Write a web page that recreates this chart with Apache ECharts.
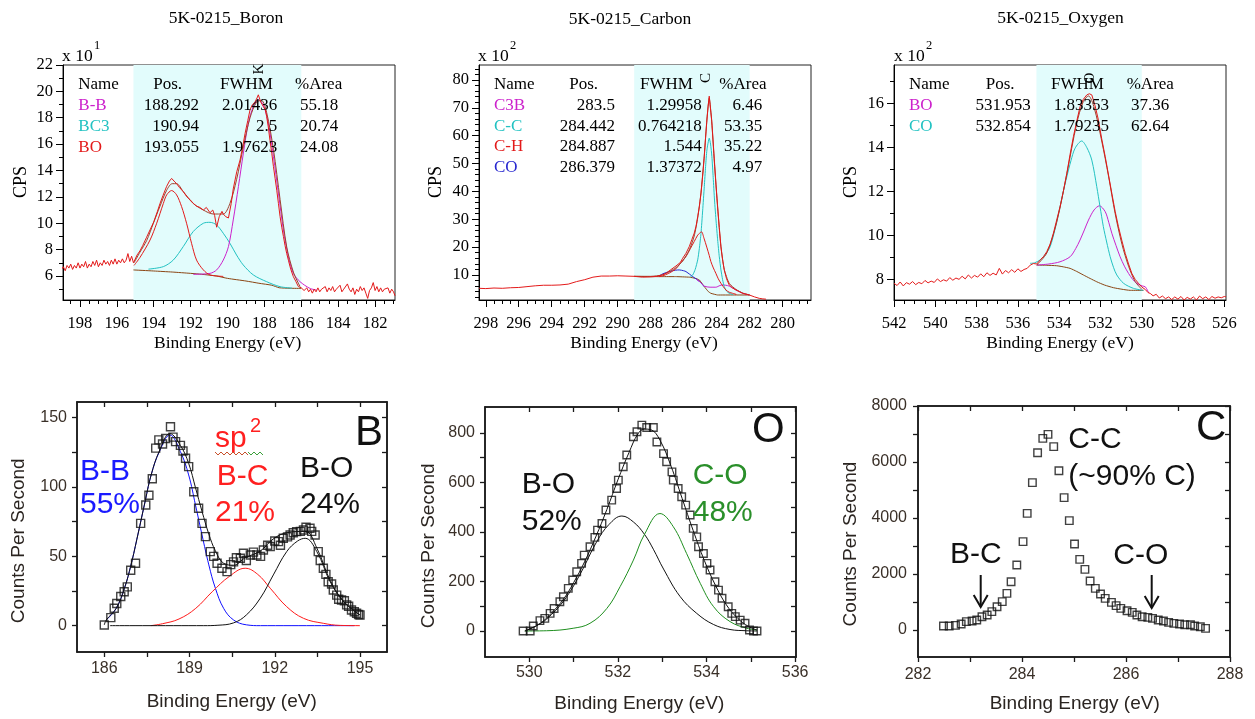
<!DOCTYPE html>
<html><head><meta charset="utf-8">
<script src="https://cdn.jsdelivr.net/npm/echarts@6/dist/echarts.min.js"></script>
<style>html,body{margin:0;padding:0;background:#fff}#c{width:1255px;height:719px}</style>
</head><body><div id="c"></div>
<script>
const SERIF = '"Liberation Serif", "Times New Roman", serif';
const SANS = '"Liberation Sans", Arial, sans-serif';

// ================= DATA =================
// ---- Top left: 5K-0215_Boron (CPS x 10^1) ----
const boronRaw = [[199.0,6.5],[198.9,6.7],[198.8,6.4],[198.7,6.8],[198.6,6.6],[198.5,6.9],[198.4,6.5],[198.3,6.8],[198.2,6.6],[198.1,7.0],[198.0,6.6],[197.9,6.9],[197.8,6.7],[197.7,7.1],[197.6,6.6],[197.5,6.9],[197.4,6.7],[197.3,7.1],[197.2,6.8],[197.1,7.2],[197.0,6.7],[196.9,7.0],[196.8,6.8],[196.7,7.2],[196.6,6.9],[196.5,7.1],[196.4,6.8],[196.3,7.2],[196.2,6.9],[196.1,7.3],[196.0,6.9],[195.9,7.2],[195.8,7.0],[195.7,7.3],[195.6,7.0],[195.5,7.2],[195.4,7.7],[195.3,7.1],[195.2,7.5],[195.1,7.0],[194.9,7.6],[194.75,7.9],[194.6,8.3],[194.4,8.9],[194.2,9.5],[194.0,10.1],[193.8,10.9],[193.66,11.5],[193.5,12.1],[193.3,12.8],[193.15,13.2],[193.03,13.4],[192.9,13.2],[192.76,13.0],[192.6,12.7],[192.4,12.4],[192.2,12.0],[192.04,11.8],[191.85,11.5],[191.68,11.3],[191.5,11.2],[191.31,11.0],[191.15,11.2],[190.95,10.8],[190.8,11.0],[190.7,10.6],[190.59,9.7],[190.45,10.5],[190.3,10.9],[190.23,10.7],[190.1,10.5],[189.95,10.4],[189.8,11.5],[189.69,12.6],[189.5,13.9],[189.32,14.8],[189.15,16.0],[189.05,16.8],[188.9,17.8],[188.78,18.6],[188.65,19.0],[188.51,19.2],[188.4,19.5],[188.33,19.74],[188.2,19.2],[188.06,18.85],[187.95,18.6],[187.88,18.1],[187.79,17.3],[187.7,16.3],[187.6,15.3],[187.51,14.3],[187.42,13.4],[187.33,12.5],[187.24,11.5],[187.15,10.5],[187.06,9.7],[186.97,9.0],[186.88,8.3],[186.79,7.7],[186.7,7.2],[186.61,6.7],[186.52,6.3],[186.43,5.95],[186.3,5.6],[186.16,5.2],[186.0,5.1],[185.85,4.9],[185.7,5.1],[185.6,4.8],[185.5,5.0],[185.4,4.7],[185.3,5.0],[185.2,4.8],[185.1,5.1],[185.0,4.8],[184.9,5.0],[184.8,4.9],[184.7,5.2],[184.6,4.8],[184.5,5.1],[184.4,4.9],[184.3,5.2],[184.2,4.8],[184.1,5.0],[184.0,4.9],[183.9,5.3],[183.8,4.8],[183.7,5.0],[183.6,4.9],[183.5,5.4],[183.4,5.0],[183.3,4.8],[183.2,5.1],[183.1,4.6],[183.0,5.0],[182.9,4.8],[182.8,5.2],[182.7,4.9],[182.6,5.1],[182.5,4.7],[182.4,4.3],[182.3,4.9],[182.2,5.1],[182.1,5.5],[182.0,4.9],[181.9,5.2],[181.8,4.8],[181.7,5.1],[181.6,4.8],[181.5,5.0],[181.4,4.9],[181.3,5.1],[181.2,4.7],[181.1,5.0],[181.0,4.8],[180.92,4.5]];
const boronEnvelope = [[195.07,7.0],[194.75,7.8],[194.38,8.7],[194.02,10.0],[193.66,11.3],[193.3,12.5],[193.0,13.0],[192.76,13.0],[192.4,12.4],[191.86,11.5],[191.31,11.0],[190.77,10.7],[190.23,10.7],[189.87,11.5],[189.51,13.3],[189.14,15.8],[188.78,18.0],[188.42,19.2],[188.15,19.3],[187.88,18.4],[187.51,15.6],[187.15,11.8],[186.79,8.2],[186.43,6.3],[186.07,5.2]];
const boronBB = [[191.86,6.13],[190.95,6.2],[190.59,6.46],[190.23,7.21],[189.95,8.23],[189.69,10.25],[189.41,12.78],[189.14,15.32],[188.87,17.6],[188.6,18.85],[188.33,19.36],[188.06,18.98],[187.79,17.6],[187.51,15.06],[187.24,12.28],[186.97,9.49],[186.7,7.47],[186.43,6.2],[186.07,5.57],[185.53,5.06],[185.17,4.94]];
const boronBC3 = [[194.29,6.52],[193.48,6.71],[192.94,7.21],[192.4,8.23],[191.86,9.37],[191.31,10.0],[190.95,10.07],[190.59,9.87],[190.23,9.24],[189.87,8.48],[189.51,7.59],[189.15,6.84],[188.6,6.08],[187.88,5.57],[187.15,5.19],[186.5,5.08]];
const boronBO = [[195.07,6.8],[194.75,7.4],[194.2,8.73],[193.84,10.0],[193.48,11.5],[193.3,12.15],[193.03,12.48],[192.76,12.15],[192.49,11.26],[192.22,10.0],[191.95,8.48],[191.68,7.21],[191.31,6.46],[190.95,6.08],[190.23,5.97]];
const boronBackground = [[195.1,6.46],[194.0,6.38],[193.0,6.3],[192.0,6.2],[191.4,6.13],[190.6,6.0],[190.0,5.82],[189.0,5.62],[188.3,5.45],[187.6,5.3],[187.2,5.11],[186.6,5.07],[186.0,5.06]];
const boronRegion = [195.1, 186.0];
const boronTable = [['B-B','188.292','2.01436','55.18'],['BC3','190.94','2.5','20.74'],['BO','193.055','1.97623','24.08']];
const boronXLabels = [182,184,186,188,190,192,194,196,198];
const boronYLabels = [6,8,10,12,14,16,18,20,22];

// ---- Top middle: 5K-0215_Carbon (CPS x 10^2) ----
const carbonRaw = [[298.4,5.2],[298.0,5.1],[297.5,5.3],[297.0,5.2],[296.5,5.4],[296.0,5.5],[295.5,5.8],[295.0,6.1],[294.5,6.3],[294.0,6.3],[293.5,6.4],[293.0,6.7],[292.5,7.6],[292.0,8.3],[291.5,9.2],[291.0,9.6],[290.5,9.6],[290.0,9.7],[289.5,9.6],[289.0,9.5],[288.5,9.2],[288.0,9.3],[287.6,9.5],[287.3,10.0],[287.07,10.6],[286.8,11.8],[286.47,13.2],[286.2,14.5],[286.06,16.0],[285.86,17.8],[285.66,20.2],[285.5,22.8],[285.36,25.0],[285.25,27.5],[285.15,30.9],[285.05,34.5],[284.95,39.3],[284.85,45.5],[284.75,52.5],[284.67,59.5],[284.59,65.6],[284.52,70.5],[284.45,74.2],[284.38,70.0],[284.3,65.6],[284.22,58.5],[284.14,51.3],[284.04,42.5],[283.94,34.5],[283.84,27.0],[283.74,20.2],[283.64,15.5],[283.54,11.8],[283.4,8.6],[283.24,6.4],[283.03,5.3],[282.83,4.6],[282.62,4.0],[282.42,3.4],[282.22,3.1],[282.02,2.8],[281.7,2.1],[281.42,1.6],[281.2,1.4],[281.01,1.3]];
const carbonEnvelope = [[289.0,9.5],[288.0,9.5],[287.3,10.0],[286.8,11.4],[286.47,12.6],[286.06,15.0],[285.66,19.0],[285.36,24.0],[285.15,30.5],[284.95,39.5],[284.75,53],[284.59,66],[284.45,73.5],[284.3,65],[284.14,50.5],[283.94,34],[283.74,20],[283.54,12],[283.24,7.0],[282.83,4.8],[282.42,3.5],[282.0,2.8]];
const carbonC3B = [[285.25,8.5],[284.95,7.2],[284.75,6.0],[284.4,5.6],[284.05,5.6],[283.8,6.2],[283.6,6.4],[283.45,6.3],[283.24,6.0],[283.03,5.3],[282.83,4.6],[282.42,3.4],[282.02,2.8]];
const carbonCC = [[285.6,9.3],[285.45,10.0],[285.3,12.0],[285.15,15.4],[285.05,19.5],[284.95,24.9],[284.85,33],[284.75,41.7],[284.67,49],[284.59,54.9],[284.45,59.1],[284.37,57],[284.29,52.5],[284.21,45],[284.13,36.9],[284.03,29],[283.94,22.6],[283.84,16.5],[283.74,11.8],[283.64,8.3],[283.54,5.8],[283.4,4.2],[283.24,3.4],[283.0,2.9]];
const carbonCH = [[287.5,9.4],[287.3,9.6],[286.9,10.6],[286.47,12.2],[286.2,14.2],[285.86,16.6],[285.6,19.4],[285.36,22.0],[285.15,24.3],[285.05,24.9],[284.92,25.5],[284.77,23.2],[284.6,20.0],[284.45,17.0],[284.35,14.8],[284.2,12.5],[284.05,10.6],[283.9,8.6],[283.74,7.0],[283.6,5.8],[283.44,4.6],[283.24,3.8],[283.03,3.4],[282.8,3.0]];
const carbonCO = [[287.5,9.6],[287.27,10.4],[286.87,11.2],[286.5,11.7],[286.27,11.8],[286.0,11.5],[285.86,11.2],[285.45,9.4],[285.05,7.7],[284.75,5.8]];
const carbonBackground = [[289.0,9.5],[288.0,9.4],[287.3,9.4],[286.5,9.4],[285.66,9.2],[285.3,8.8],[285.05,8.2],[284.75,5.8],[284.5,4.0],[284.35,3.4],[283.94,2.8],[283.0,2.8],[282.0,2.8]];
const carbonRegion = [289.0, 282.0];
const carbonTable = [['C3B','283.5','1.29958','6.46'],['C-C','284.442','0.764218','53.35'],['C-H','284.887','1.544','35.22'],['CO','286.379','1.37372','4.97']];
const carbonXLabels = [280,282,284,286,288,290,292,294,296,298];
const carbonYLabels = [10,20,30,40,50,60,70,80];

// ---- Top right: 5K-0215_Oxygen (CPS x 10^2) ----
const oxygenRaw = [[542.0,7.82],[541.85,7.72],[541.7,7.88],[541.55,7.7],[541.4,7.85],[541.25,7.78],[541.1,7.9],[540.95,7.76],[540.8,7.86],[540.65,7.8],[540.5,7.95],[540.35,7.84],[540.2,7.92],[540.05,7.86],[539.9,8.02],[539.75,7.9],[539.6,7.98],[539.45,7.92],[539.3,8.08],[539.15,7.96],[539.0,8.06],[538.85,8.0],[538.7,8.14],[538.55,8.02],[538.4,8.2],[538.25,8.06],[538.1,8.18],[537.95,8.1],[537.8,8.25],[537.65,8.12],[537.5,8.3],[537.35,8.18],[537.2,8.28],[537.05,8.2],[536.9,8.5],[536.75,8.24],[536.6,8.4],[536.45,8.3],[536.3,8.44],[536.15,8.32],[536.0,8.48],[535.85,8.36],[535.7,8.45],[535.55,8.5],[535.4,8.65],[535.25,8.72],[535.09,8.7],[534.9,8.9],[534.75,9.05],[534.6,9.26],[534.44,9.6],[534.28,10.1],[534.12,10.7],[533.96,11.3],[533.8,12.0],[533.63,12.83],[533.47,13.7],[533.31,14.5],[533.15,15.2],[532.99,15.86],[532.83,16.2],[532.66,16.4],[532.54,16.45],[532.42,16.4],[532.26,15.9],[532.1,15.26],[531.94,14.4],[531.77,13.59],[531.61,12.75],[531.45,11.92],[531.29,11.1],[531.13,10.4],[530.96,9.75],[530.8,9.18],[530.64,8.7],[530.48,8.27],[530.32,8.0],[530.16,7.82],[530.0,7.65],[529.83,7.54],[529.7,7.4],[529.59,7.36],[529.45,7.25],[529.3,7.32],[529.15,7.15],[529.0,7.24],[528.85,7.12],[528.7,7.2],[528.55,7.08],[528.4,7.2],[528.25,7.1],[528.1,7.22],[527.95,7.06],[527.8,7.18],[527.65,7.1],[527.5,7.2],[527.35,7.06],[527.2,7.24],[527.05,7.12],[526.9,7.2],[526.75,7.08],[526.6,7.22],[526.45,7.14],[526.3,7.2],[526.15,7.16],[526.0,7.22],[525.92,7.2]];
const oxygenEnvelope = [[535.09,8.65],[534.6,9.2],[534.12,10.6],[533.63,12.8],[533.15,15.1],[532.83,16.1],[532.58,16.35],[532.3,15.8],[531.94,14.3],[531.61,12.7],[531.29,11.0],[530.96,9.6],[530.64,8.6],[530.32,7.9],[530.0,7.55]];
const oxygenBO = [[535.09,8.65],[534.5,8.7],[533.96,8.8],[533.47,9.03],[533.2,9.4],[532.99,9.79],[532.78,10.25],[532.58,10.7],[532.31,11.16],[532.05,11.35],[531.77,11.08],[531.6,10.6],[531.45,10.1],[531.25,9.55],[531.05,9.03],[530.84,8.6],[530.64,8.27],[530.44,8.0],[530.24,7.82],[529.98,7.7],[529.83,7.66],[529.67,7.4]];
const oxygenCO = [[535.41,8.73],[535.2,8.75],[534.93,8.88],[534.7,9.1],[534.44,9.48],[534.2,10.3],[533.96,11.3],[533.8,12.0],[533.63,12.67],[533.43,13.4],[533.23,13.97],[532.91,14.3],[532.66,14.0],[532.42,13.43],[532.18,12.22],[532.02,11.3],[531.86,10.4],[531.7,9.7],[531.53,9.03],[531.37,8.55],[531.21,8.2],[530.88,7.82],[530.4,7.59],[529.92,7.5]];
const oxygenBackground = [[535.09,8.65],[534.6,8.64],[534.12,8.62],[533.8,8.57],[533.47,8.5],[533.15,8.36],[532.83,8.2],[532.5,8.04],[532.18,7.89],[531.8,7.74],[531.37,7.62],[530.96,7.55],[530.56,7.5],[529.92,7.5]];
const oxygenRegion = [535.1, 530.0];
const oxygenTable = [['BO','531.953','1.83353','37.36'],['CO','532.854','1.79235','62.64']];
const oxygenXLabels = [526,528,530,532,534,536,538,540,542];
const oxygenYLabels = [8,10,12,14,16];

// ---- Bottom left: B ----
const bPoints = [[186.0,0.5],[186.23,5.8],[186.35,12.5],[186.44,16],[186.58,21],[186.7,24.5],[186.81,28],[186.93,40],[187.1,45],[187.28,73.8],[187.46,87],[187.57,94],[187.69,106],[187.81,128],[187.92,134],[188.05,131],[188.16,135],[188.33,143.5],[188.42,136],[188.51,132.7],[188.68,130],[188.77,126],[188.86,120.7],[188.97,114.7],[189.15,96.6],[189.32,84.7],[189.44,73.8],[189.56,64.2],[189.73,53.4],[189.85,50],[189.97,45],[190.14,41.4],[190.32,39],[190.45,44],[190.55,46],[190.65,49],[190.79,48.6],[190.9,52.2],[191.0,47],[191.14,51],[191.25,53],[191.37,51],[191.5,50],[191.6,54.6],[191.75,58],[191.84,57],[192.0,61],[192.13,60.6],[192.2,58],[192.3,63],[192.45,64],[192.54,65.4],[192.65,67],[192.77,67.8],[192.9,68],[193.01,69],[193.1,71],[193.24,70.2],[193.3,68],[193.42,65.4],[193.53,53.4],[193.6,47],[193.71,41.4],[193.8,37],[193.88,31.7],[194.0,30],[194.06,25.7],[194.18,22],[194.25,19],[194.35,18.5],[194.45,18],[194.53,15],[194.6,14],[194.7,11.3],[194.8,10],[194.88,9],[194.95,8],[195.0,7.7]];
const bEnvelope = [[186.0,0.5],[186.07,4.1],[186.42,12.5],[186.71,27],[186.94,43.8],[187.18,65.4],[187.41,87],[187.65,108.7],[187.94,126],[188.31,138.5],[188.68,130],[188.97,117],[189.21,99.5],[189.44,82.4],[189.68,66],[189.91,54],[190.2,45],[190.55,43.6],[190.96,49],[191.49,53.8],[191.95,62.6],[192.42,67],[193.07,68],[193.48,56],[193.95,32.7],[194.42,17.6],[195.0,7.7]];
const bBB = [[186.07,4.1],[186.42,12.5],[186.71,27],[186.94,43.8],[187.18,65.4],[187.41,87],[187.65,108.7],[187.94,125.5],[188.31,137.5],[188.68,125.5],[188.97,108.7],[189.21,87],[189.44,65.4],[189.68,43.8],[189.91,27],[190.2,12.5],[190.55,4.1],[191.0,0.6],[191.5,0],[194.8,0]];
const bBC = [[187.64,0],[188.05,1.4],[188.63,4.8],[189.22,12.5],[189.8,24.5],[190.4,35.5],[190.96,41.4],[191.4,37],[191.84,27],[192.42,13.7],[193.01,5.3],[193.71,1.7],[194.3,0.2],[195.0,0]];
const bBO = [[186.2,0],[189.5,0],[190.0,0.3],[190.55,2],[191.0,7.7],[191.49,19.8],[191.95,36.6],[192.42,53.4],[192.8,61],[193.07,63],[193.48,53.4],[193.95,31.7],[194.42,17.3],[195.0,7.7]];
const bXTicks = [186,187.5,189,190.5,192,193.5,195];
const bXLabels = [186,189,192,195];
const bYTicks = [0,25,50,75,100,125,150];
const bYLabels = [0,50,100,150];

// ---- Bottom middle: O ----
const oPoints = [[529.86,0],[530.02,0],[530.09,20],[530.24,42],[530.35,51],[530.47,71],[530.56,91],[530.69,118],[530.77,138],[530.88,172],[530.98,206],[531.07,239],[531.18,273],[531.24,306],[531.37,340],[531.48,378],[531.54,407],[531.64,434],[531.73,488],[531.86,528],[531.97,575],[532.01,609],[532.12,663],[532.2,710],[532.35,784],[532.43,804],[532.54,831],[532.65,821],[532.8,821],[532.88,763],[533.03,716],[533.1,683],[533.22,642],[533.25,609],[533.36,575],[533.44,542],[533.53,508],[533.63,468],[533.7,414],[533.78,380],[533.82,340],[533.93,313],[534.01,273],[534.08,246],[534.19,199],[534.27,165],[534.35,132],[534.49,98],[534.57,71],[534.65,58],[534.76,44],[534.87,31],[534.97,4],[535.06,0],[535.14,0]];
const oEnvelope = [[529.9,0],[530.1,15],[530.3,38],[530.5,72],[530.77,128],[531.0,195],[531.25,280],[531.5,380],[531.75,490],[532.0,610],[532.25,720],[532.45,795],[532.6,815],[532.75,812],[532.95,770],[533.2,665],[533.45,535],[533.7,405],[533.95,285],[534.2,185],[534.45,105],[534.7,52],[534.95,18],[535.14,4]];
const oBO = [[529.9,0],[530.2,25],[530.39,48],[530.77,120],[531.15,230],[531.52,360],[531.8,430],[532.09,464],[532.35,440],[532.6,390],[532.8,330],[533.03,250],[533.4,140],[533.78,71],[534.16,26],[534.53,6],[534.9,1],[535.14,0]];
const oCO = [[529.9,0],[530.39,1],[530.99,11],[531.37,31],[531.75,91],[532.05,179],[532.35,286],[532.6,390],[532.95,474],[533.25,421],[533.55,313],[533.86,192],[534.16,98],[534.53,38],[534.91,11],[535.14,4]];
const oXTicks = [530,531,532,533,534,535,536];
const oXLabels = [530,532,534,536];
const oYTicks = [0,100,200,300,400,500,600,700,800];
const oYLabels = [0,200,400,600,800];

// ---- Bottom right: C ----
const cPoints = [[282.49,143],[282.6,143],[282.72,167],[282.83,214],[282.93,298],[283.04,321],[283.13,357],[283.23,476],[283.33,536],[283.42,655],[283.52,833],[283.62,1012],[283.71,1310],[283.79,1726],[283.9,2321],[284.02,3155],[284.1,4167],[284.2,5262],[284.3,6333],[284.4,6845],[284.5,6988],[284.61,6548],[284.71,5690],[284.81,4726],[284.91,3905],[285.01,3071],[285.11,2524],[285.21,2167],[285.31,1750],[285.41,1488],[285.51,1286],[285.6,1131],[285.72,988],[285.81,869],[285.9,774],[286.02,690],[286.12,631],[286.21,536],[286.31,476],[286.42,452],[286.51,417],[286.62,357],[286.72,321],[286.82,274],[286.92,238],[287.03,214],[287.13,190],[287.24,190],[287.32,143],[287.43,119],[287.53,60]];
const cXTicks = [282,283,284,285,286,287,288];
const cXLabels = [282,284,286,288];
const cYTicks = [0,1000,2000,3000,4000,5000,6000,7000,8000];
const cYLabels = [0,2000,4000,6000,8000];

// ================= BUILD =================
function halfSteps(lo, hi, major) {
  const out = [];
  for (let i = Math.round(lo * 2); i <= Math.round(hi * 2); i++) {
    const v = i / 2;
    if (major.indexOf(v) < 0) out.push(v);
  }
  return out;
}
function oddSteps(lo, hi, step, major) {
  const out = [];
  for (let v = lo; v <= hi + 1e-9; v += step) if (major.indexOf(v) < 0) out.push(v);
  return out;
}
const plain = function (v) { return String(Math.round(v * 1000) / 1000); };

const grids = [
  {left: 63, top: 65, width: 332, height: 235},
  {left: 479, top: 65, width: 332, height: 235},
  {left: 894, top: 65, width: 332, height: 235},
  {left: 77, top: 402, width: 310, height: 250},
  {left: 485, top: 407, width: 311, height: 250},
  {left: 918, top: 406, width: 312, height: 251}
].map((g, i) => Object.assign(g, {show: true, borderColor: i < 3 ? '#222' : '#1a1a1a', borderWidth: i < 3 ? 1 : 1.5, backgroundColor: 'transparent'}));

const xAxes = [], yAxes = [];
const BLACK = '#000';
const BOT_LABEL = '#3a3028';

function topPanel(g, xr, yr, xMaj, xMin, yMaj, yMin) {
  const base = {type: 'value', gridIndex: g, splitLine: {show: false}};
  xAxes.push(Object.assign({}, base, {min: xr[0], max: xr[1], inverse: true, position: 'bottom',
    axisLine: {onZero: false, lineStyle: {color: BLACK, width: 1}},
    axisTick: {customValues: xMaj, length: 7, lineStyle: {color: BLACK}},
    axisLabel: {customValues: xMaj, formatter: plain, margin: 15, fontFamily: SERIF, fontSize: 16.5, color: BLACK}}));
  const xi = xAxes.length - 1;
  xAxes.push(Object.assign({}, base, {min: xr[0], max: xr[1], inverse: true, position: 'bottom',
    axisLine: {show: false, onZero: false}, axisTick: {customValues: xMin, length: 4, lineStyle: {color: BLACK}},
    axisLabel: {show: false}}));
  yAxes.push(Object.assign({}, base, {min: yr[0], max: yr[1], position: 'left',
    axisLine: {onZero: false, lineStyle: {color: BLACK, width: 1}},
    axisTick: {customValues: yMaj, length: 7, lineStyle: {color: BLACK}},
    axisLabel: {customValues: yMaj, formatter: plain, margin: 10, padding: [0, 0, 9, 0], fontFamily: SERIF, fontSize: 16.5, color: BLACK}}));
  const yi = yAxes.length - 1;
  yAxes.push(Object.assign({}, base, {min: yr[0], max: yr[1], position: 'left',
    axisLine: {show: false, onZero: false}, axisTick: {customValues: yMin, length: 4, lineStyle: {color: BLACK}},
    axisLabel: {show: false}}));
  return [xi, yi];
}

function botPanel(g, xr, yr, xT, xL, yT, yL, mx, my) {
  const base = {type: 'value', gridIndex: g, splitLine: {show: false}};
  const lineS = {color: '#1a1a1a', width: 1.5};
  const tickS = {color: '#1a1a1a', width: 1.3};
  xAxes.push(Object.assign({}, base, {min: xr[0], max: xr[1], position: 'bottom',
    axisLine: {onZero: false, lineStyle: lineS}, axisTick: {customValues: xT, length: 5, lineStyle: tickS},
    axisLabel: {customValues: xL, formatter: plain, margin: mx, fontFamily: SANS, fontSize: 16, color: BOT_LABEL}}));
  const xi = xAxes.length - 1;
  xAxes.push(Object.assign({}, base, {min: xr[0], max: xr[1], position: 'top',
    axisLine: {onZero: false, lineStyle: lineS}, axisTick: {inside: true, customValues: xT, length: 5, lineStyle: tickS},
    axisLabel: {show: false}}));
  yAxes.push(Object.assign({}, base, {min: yr[0], max: yr[1], position: 'left',
    axisLine: {onZero: false, lineStyle: lineS}, axisTick: {customValues: yT, length: 5, lineStyle: tickS},
    axisLabel: {customValues: yL, formatter: plain, margin: my, fontFamily: SANS, fontSize: 16, color: BOT_LABEL}}));
  const yi = yAxes.length - 1;
  yAxes.push(Object.assign({}, base, {min: yr[0], max: yr[1], position: 'right',
    axisLine: {onZero: false, lineStyle: lineS}, axisTick: {inside: true, customValues: yT, length: 5, lineStyle: tickS},
    axisLabel: {show: false}}));
  return [xi, yi];
}

const pB = topPanel(0, [180.92, 198.92], [4.18, 22.0], boronXLabels, halfSteps(181, 198.5, boronXLabels), boronYLabels, oddSteps(5, 21, 2, boronYLabels));
const pC = topPanel(1, [278.28, 298.41], [1.0, 85.4], carbonXLabels, halfSteps(278.5, 298, carbonXLabels), carbonYLabels, oddSteps(2, 84, 2, carbonYLabels));
const pO = topPanel(2, [525.92, 542.0], [7.06, 17.76], oxygenXLabels, halfSteps(526, 541.5, oxygenXLabels), oxygenYLabels, oddSteps(9, 17, 2, oxygenYLabels));
const qB = botPanel(3, [185.04, 195.95], [-19, 161.3], bXTicks, bXLabels, bYTicks, bYLabels, 9, 10);
const qO = botPanel(4, [529.0, 536.02], [-105, 904], oXTicks, oXLabels, oYTicks, oYLabels, 8, 10);
const qC = botPanel(5, [282.0, 288.0], [-964, 8000], cXTicks, cXLabels, cYTicks, cYLabels, 10, 11);

function line(p, data, color, opts) {
  return Object.assign({type: 'line', xAxisIndex: p[0], yAxisIndex: p[1], data: data, showSymbol: false, symbol: 'none',
    smooth: 0.3, lineStyle: {color: color, width: 1}, itemStyle: {color: color}, silent: true, z: 3}, opts || {});
}
function shade(range) {
  return {silent: true, itemStyle: {color: '#e2fcfc', opacity: 1}, data: [[{xAxis: range[0]}, {xAxis: range[1]}]]};
}
function squares(p, data, size) {
  return {type: 'scatter', xAxisIndex: p[0], yAxisIndex: p[1], data: data, symbol: 'rect', symbolSize: size, silent: true, z: 5,
    itemStyle: {color: 'rgba(0,0,0,0)', borderColor: '#111', borderWidth: 1.4}};
}

const MAG = '#cc22cc', CYAN = '#22c2c2', RED = '#e31a1a', BROWN = '#8b4513', ENV = '#a0402d', BLUE = '#2828d0';

const series = [
  // Boron
  line(pB, boronBackground, BROWN, {z: 1, smooth: 0.2, markArea: shade(boronRegion)}),
  line(pB, boronBC3, CYAN),
  line(pB, boronBB, MAG),
  line(pB, boronBO, RED),
  line(pB, boronEnvelope, ENV),
  line(pB, boronRaw, RED, {smooth: false}),
  // Carbon
  line(pC, carbonBackground, BROWN, {z: 1, smooth: 0.1, markArea: shade(carbonRegion)}),
  line(pC, carbonCO, BLUE),
  line(pC, carbonC3B, MAG),
  line(pC, carbonCC, CYAN, {smooth: 0.2}),
  line(pC, carbonCH, RED),
  line(pC, carbonEnvelope, ENV, {smooth: 0.2}),
  line(pC, carbonRaw, RED, {smooth: false}),
  // Oxygen
  line(pO, oxygenBackground, BROWN, {z: 1, smooth: 0.2, markArea: shade(oxygenRegion)}),
  line(pO, oxygenBO, MAG),
  line(pO, oxygenCO, CYAN),
  line(pO, oxygenEnvelope, ENV),
  line(pO, oxygenRaw, RED, {smooth: false}),
  // Bottom B
  line(qB, bBB, '#1010ff', {smooth: 0.4}),
  line(qB, bBC, '#ff1a1a', {smooth: 0.4}),
  line(qB, bBO, '#111', {smooth: 0.4}),
  line(qB, bEnvelope, '#111', {smooth: 0.4}),
  squares(qB, bPoints, 8),
  // Bottom O
  line(qO, oBO, '#111', {smooth: 0.4}),
  line(qO, oCO, '#1f8f1f', {smooth: 0.4}),
  line(qO, oEnvelope, '#111', {smooth: 0.4}),
  squares(qO, oPoints, 7.5),
  // Bottom C
  squares(qC, cPoints, 7.5)
];

// ---- text / annotations ----
const graphic = [];
function txt(x, y, text, size, family, color, align, extra) {
  const font = size + 'px ' + family;
  graphic.push(Object.assign({type: 'text', x: x, y: y, z: 100, silent: true,
    style: {text: text, font: font, fill: color, textAlign: align || 'left', textVerticalAlign: 'middle', align: align || 'left', verticalAlign: 'middle'}}, extra || {}));
}
// titles
txt(226, 18, '5K-0215_Boron', 17.5, SERIF, '#000', 'center');
txt(630, 19, '5K-0215_Carbon', 17.5, SERIF, '#000', 'center');
txt(1060.5, 18, '5K-0215_Oxygen', 17.5, SERIF, '#000', 'center');
// multipliers
txt(62, 56, 'x 10', 17.5, SERIF, '#000');
txt(94, 46, '1', 12.5, SERIF, '#000');
txt(478, 56, 'x 10', 17.5, SERIF, '#000');
txt(510, 46, '2', 12.5, SERIF, '#000');
txt(894, 56, 'x 10', 17.5, SERIF, '#000');
txt(926, 46, '2', 12.5, SERIF, '#000');
// axis names (top)
[[227.7, 21.7], [644, 436.7], [1060, 851.7]].forEach(function (p) {
  txt(p[0], 343, 'Binding Energy (eV)', 17.5, SERIF, '#000', 'center');
  txt(p[1], 182, 'CPS', 18, SERIF, '#000', 'center', {rotation: Math.PI / 2});
});
// peak markers
txt(259, 69, 'K', 15, SERIF, '#000', 'center', {rotation: Math.PI / 2});
txt(706, 78, 'C', 15, SERIF, '#000', 'center', {rotation: Math.PI / 2});
txt(1090, 78, 'O', 15, SERIF, '#000', 'center', {rotation: Math.PI / 2});
// tables
function table(rows, nameColors, colX, rowsY) {
  txt(colX[0], rowsY[0], 'Name', 17, SERIF, '#000');
  txt(colX[1], rowsY[0], 'Pos.', 17, SERIF, '#000');
  txt(colX[2], rowsY[0], 'FWHM', 17, SERIF, '#000');
  txt(colX[3], rowsY[0], '%Area', 17, SERIF, '#000');
  rows.forEach(function (r, i) {
    const y = rowsY[i + 1];
    txt(colX[0], y, r[0], 17, SERIF, nameColors[i]);
    txt(colX[4], y, r[1], 17, SERIF, '#000', 'right');
    txt(colX[5], y, r[2], 17, SERIF, '#000', 'right');
    txt(colX[6], y, r[3], 17, SERIF, '#000', 'right');
  });
}
table(boronTable, [MAG, CYAN, RED], [78.3, 153.3, 220, 295, 199, 277.3, 338.3], [85, 106, 127, 147.5]);
table(carbonTable, [MAG, CYAN, RED, BLUE], [494, 569.3, 640, 719.3, 615, 701.7, 762.3], [85, 106, 126.7, 147, 167.7]);
table(oxygenTable, [MAG, CYAN], [909, 985.7, 1051, 1126.7, 1030.7, 1109, 1169.3], [85, 106, 127]);

// bottom axis names
[[231.7, 701.7, 18.8, 540.8], [639.3, 703.3, 428.3, 545.8], [1074.7, 704, 851, 544]].forEach(function (p) {
  txt(p[0], p[1], 'Binding Energy (eV)', 19, SANS, '#2a2420', 'center');
  txt(p[2], p[3], 'Counts Per Second', 19, SANS, '#2a2420', 'center', {rotation: Math.PI / 2});
});
// bottom B annotations
txt(80, 472, 'B-B', 30, SANS, '#1a1aff');
txt(80, 505, '55%', 30, SANS, '#1a1aff');
txt(215, 439, 'sp', 30, SANS, '#ff2020');
txt(250, 426, '2', 20, SANS, '#ff2020');
txt(216.7, 477, 'B-C', 30, SANS, '#ff2020');
txt(215, 513, '21%', 30, SANS, '#ff2020');
txt(300, 469, 'B-O', 30, SANS, '#111');
txt(300, 505, '24%', 30, SANS, '#111');
txt(355, 433, 'B', 42, SANS, '#111');
// wavy underline under "sp"
(function () {
  const red = [], green = [];
  for (let i = 0; i <= 11; i++) red.push([215 + i * 3, i % 2 ? 455 : 452]);
  for (let i = 0; i <= 5; i++) green.push([248 + i * 3, i % 2 ? 455 : 452]);
  graphic.push({type: 'polyline', z: 100, silent: true, shape: {points: red}, style: {stroke: '#c8502a', lineWidth: 1, fill: null}});
  graphic.push({type: 'polyline', z: 100, silent: true, shape: {points: green}, style: {stroke: '#3aa03a', lineWidth: 1, fill: null}});
})();
// bottom O annotations
txt(521.7, 485, 'B-O', 30, SANS, '#111');
txt(521.7, 521.5, '52%', 30, SANS, '#111');
txt(692.7, 476, 'C-O', 30, SANS, '#2a8f2a');
txt(692.7, 512.5, '48%', 30, SANS, '#2a8f2a');
txt(752, 430, 'O', 42, SANS, '#111');
// bottom C annotations
txt(1068.3, 440, 'C-C', 30, SANS, '#111');
txt(1068.3, 477, '(~90% C)', 30, SANS, '#111');
txt(950, 555, 'B-C', 30, SANS, '#111');
txt(1113.3, 556, 'C-O', 30, SANS, '#111');
txt(1196, 428, 'C', 42, SANS, '#111');
[[980.7, 575, 607], [1151.7, 575, 608]].forEach(function (a) {
  graphic.push({type: 'line', z: 100, silent: true, shape: {x1: a[0], y1: a[1], x2: a[0], y2: a[2]}, style: {stroke: '#111', lineWidth: 2}});
  graphic.push({type: 'polyline', z: 100, silent: true, shape: {points: [[a[0] - 7, a[2] - 12], [a[0], a[2]], [a[0] + 7, a[2] - 12]]}, style: {stroke: '#111', lineWidth: 2, fill: null}});
});

const chart = echarts.init(document.getElementById('c'), null, {renderer: 'canvas'});
chart.setOption({
  animation: false,
  backgroundColor: '#fff',
  tooltip: {show: false},
  grid: grids,
  xAxis: xAxes,
  yAxis: yAxes,
  series: series,
  graphic: graphic
});
</script></body></html>
